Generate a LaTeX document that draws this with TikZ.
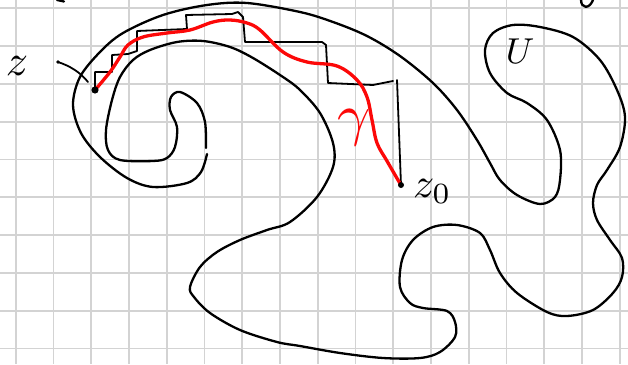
\documentclass[tikz,border=0pt]{standalone}
\usepackage{tikz}
\usepackage{graphicx}
\definecolor{gridgray}{RGB}{211,211,211}
\definecolor{penred}{RGB}{252,8,8}
\begin{document}
\begin{tikzpicture}[x=1pt,y=-1pt,
  gridline/.style={draw=gridgray,line width=1.8pt},
  ink/.style={draw=black,line width=2.3pt,line cap=round,line join=round},
  thinink/.style={draw=black,line width=1.8pt,line cap=round,line join=round},
  redink/.style={draw=penred,line width=3.3pt,line cap=round,line join=round},
  lbl/.style={inner sep=0pt}]
\useasboundingbox (0,0) rectangle (628,364);
\fill[white] (0,0) rectangle (628,364);
% squared paper
\foreach \i in {0,...,16} \draw[gridline] ({15.7+37.75*\i},0) -- ({15.7+37.75*\i},364);
\foreach \j in {0,...,9} \draw[gridline] (0,{8.3+37.8*\j}) -- (628,{8.3+37.8*\j});
% boundary of U
\draw[ink] plot[smooth,tension=0.55] coordinates {
 (207,154) (201,172) (187,183) (153,187) (127,178) (100,157) (81,133) (73,105)
 (80,77) (100,52) (123,33) (163,15) (207,5) (247,3) (300,12) (333,22) (367,36)
 (400,56) (433,83) (457,110) (477,140) (490,163) (500,180) (517,195) (540,204)
 (555,197) (560,180) (560,150) (547,120) (527,103) (507,93) (490,73) (485,50)
 (493,33) (513,25) (540,27) (573,37) (600,60) (617,90) (625,117) (620,147)
 (607,170) (597,185) (593,203) (597,220) (610,240) (622,258) (622,277) (613,293)
 (593,310) (567,316) (547,312) (517,293) (500,273) (490,250) (480,233) (457,225)
 (433,227) (413,240) (402,260) (400,287) (410,303) (423,308) (447,311) (455,322)
 (455,337) (440,352) (420,358) (383,358) (340,353) (300,346) (277,342) (240,330)
 (210,313) (194,297) (190,287) (200,267) (217,252) (240,240) (267,230) (290,222)
 (317,197) (333,167) (333,143) (320,113) (300,90) (283,77) (253,58) (230,47)
 (203,41) (177,42) (150,50) (133,60) (120,77) (112,100) (106,130) (108,150)
 (120,160) (153,161) (167,158) (175,147) (177,127) (170,110) (171,97) (180,92)
 (197,103) (205,122) (206,148)};
% points
\coordinate (zpt) at (95,90);
\coordinate (z0pt) at (401,185);
\coordinate (sbar) at (397,80);
\coordinate (lz1) at (58,62);
\coordinate (lz2) at (88,82);
% staircase path
\draw[thinink] (zpt) -- (95,72) -- (112,72) -- (112,55) -- (128,54) -- (137,51)
  -- (137,31) -- (187,29) -- (186,15) -- (232,14) -- (238,12) -- (243,17)
  -- (245,42) -- (322,42) -- (326,45) -- (328,83) -- (373,85) -- (393,81);
\draw[thinink] (sbar) -- (z0pt);
% gamma curve
\draw[redink] plot[smooth,tension=0.6] coordinates {
 (zpt) (110,72) (120,57) (128,45) (143,37) (167,33) (190,30) (213,22) (230,20)
 (247,23) (260,30) (283,52) (307,62) (337,66) (357,80) (367,97) (372,120)
 (377,143) (387,161) (398,180) (z0pt)};
\fill (zpt) circle[radius=3.6pt];
\fill (z0pt) circle[radius=3pt];
% leader to z
\draw[thinink] (lz1) .. controls (70,66) and (80,72) .. (lz2);
\fill (lz1) circle[radius=1.8pt];
% labels
\node[lbl,anchor=base] (zlab) at (17,75) {\scalebox{4.4}{$z$}};
\node[lbl,anchor=base west] (z0lab) at (413,197) {\scalebox{4.2}{$z_0$}};
\node[lbl,anchor=base] (ulab) at (520,63) {\scalebox{3.6}{$U$}};
\node[lbl,anchor=base,text=penred] (gam) at (354,134) {\scalebox{5.8}{$\gamma$}};
% cut-off marks at the top edge
\draw[ink] (57,0) -- (64,1.5);
\draw[ink] (581,0) .. controls (581,8) and (589,10) .. (593,0);
\end{tikzpicture}
\end{document}
